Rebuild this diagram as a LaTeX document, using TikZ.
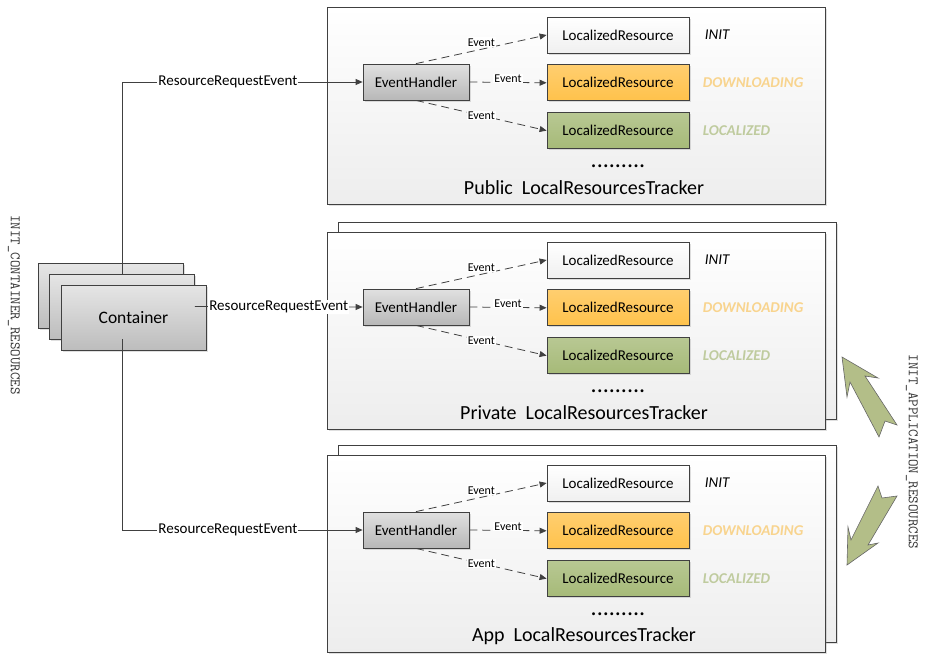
\documentclass[tikz,border=0pt]{standalone}
\usepackage{fontspec}
\setmainfont{Carlito}
\usepackage{tikz}
\usetikzlibrary{positioning,shadows,arrows.meta}
\newcommand{\lres}{LocalizedResource}
\newcommand{\pxfont}[1]{\fontsize{#1}{#1}\selectfont}
\definecolor{edge}{HTML}{404040}
\definecolor{dlfill}{HTML}{FFC24B}
\definecolor{locfill}{HTML}{A6BA78}
\definecolor{dltext}{HTML}{F8D48E}
\definecolor{loctext}{HTML}{BFCB9E}
\definecolor{boltfill}{HTML}{B3BE88}
\tikzset{
  shadowed/.style={drop shadow={shadow xshift=1.5pt,shadow yshift=-1.5pt,opacity=0.25}},
  basebox/.style={draw=edge, line width=0.8pt, minimum height=36pt, inner sep=0pt, font=\pxfont{15}, shadowed},
  resbox/.style={basebox, minimum width=142pt},
  initres/.style={resbox, top color=white, bottom color=black!6},
  dlres/.style={resbox, top color=dlfill!80!white, bottom color=dlfill},
  locres/.style={resbox, top color=locfill!80!white, bottom color=locfill},
  handler/.style={basebox, minimum width=106pt, top color=black!12, bottom color=black!28},
  container/.style={basebox, minimum width=145pt, minimum height=65pt, top color=black!10, bottom color=black!26, font=\pxfont{17.5}},
  tracker/.style={draw=edge, line width=0.8pt, minimum width=498pt, minimum height=197pt, top color=white, bottom color=black!7, shadowed},
  statelbl/.style={anchor=west, font=\pxfont{15}\itshape},
  conn/.style={draw=edge, line width=0.8pt, -{Triangle[length=7pt,width=6pt]}},
  evconn/.style={conn, dash pattern=on 8pt off 5pt},
  evt/.style={font=\pxfont{12}, fill=white, inner sep=1pt},
  req/.style={font=\pxfont{15}, fill=white, inner sep=1pt},
  vtext/.style={font=\ttfamily\pxfont{14.5}, text=black!80, rotate=-90},
  bolt/.style={draw=black!60, line width=0.6pt, fill=boltfill, line join=miter}
}
\begin{document}
\begin{tikzpicture}[x=1pt,y=-1pt]
  \useasboundingbox (0,0) rectangle (928,659);

  % Trackers
  \foreach \p/\t/\name/\back in {pub/7/Public/0, priv/232/Private/1, app/455/App/1} {
    \ifnum\back=1
      \node[tracker] (back-\p) at (587,\t+88.5) {};
    \fi
    \node[tracker] (trk-\p) at (576,\t+98.5) {};
    \node[handler] (eh-\p) at (416,\t+75) {EventHandler};
    \node[initres] (init-\p) at (618,\t+28) {\lres};
    \node[dlres, below=11pt of init-\p] (dl-\p) {\lres};
    \node[locres, below=11pt of dl-\p] (loc-\p) {\lres};
    \node[statelbl, right=12pt of init-\p] (s-init-\p) {INIT};
    \node[statelbl, right=10pt of dl-\p, text=dltext, font=\pxfont{15}\bfseries\itshape] (s-dl-\p) {DOWNLOADING};
    \node[statelbl, right=10pt of loc-\p, text=loctext, font=\pxfont{15}\bfseries\itshape] (s-loc-\p) {LOCALIZED};
    \node[font=\pxfont{24}] (dots-\p) at (618,\t+159) {.........};
    \node[font=\pxfont{20}] (title-\p) at (584,\t+181) {\name\ \ LocalResourcesTracker};
    \draw[evconn] (eh-\p.north) -- node[evt, yshift=7pt] {Event} (init-\p.west);
    \draw[evconn] (eh-\p.east) -- node[evt, yshift=4pt] {Event} (dl-\p.west);
    \draw[evconn] (eh-\p.south) -- node[evt] {Event} (loc-\p.west);
  }

  % Containers
  \node[container] (c1) at (111,295.5) {};
  \node[container] (c2) at (122,306.5) {};
  \node[container] (c3) at (133.5,317.5) {Container};

  \draw[conn] (c2.north) |- node[req, pos=0.72] {ResourceRequestEvent} (eh-pub.west);
  \draw[conn] (c2.east) -- node[req] {ResourceRequestEvent} (eh-priv.west);
  \draw[conn] (c2.south) |- node[req, pos=0.72] {ResourceRequestEvent} (eh-app.west);

  \node[vtext] (initc) at (14,305) {INIT\_CONTAINER\_RESOURCES};
  \node[vtext] (inita) at (912,452) {INIT\_APPLICATION\_RESOURCES};

  % Arrows
  \draw[bolt] (842,357) -- (878,378) -- (865,376) -- (897,425) -- (885,421)
    -- (879,437) -- (850,382) -- (847,397) -- cycle;
  \draw[bolt] (847,565) -- (848,527) -- (851,540) -- (878,486) -- (882,498)
    -- (897,496) -- (868,545) -- (878,543) -- cycle;
\end{tikzpicture}
\end{document}
